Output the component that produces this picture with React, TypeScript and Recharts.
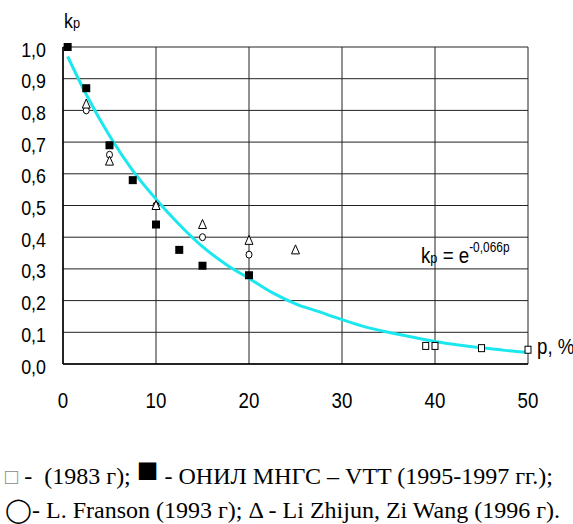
import {
  ComposedChart,
  Line,
  Scatter,
  XAxis,
  YAxis,
  CartesianGrid,
} from "recharts";

// ОНИЛ МНГС – VTT (1995-1997), filled squares
const pFilled = [0.5, 2.5, 5, 7.5, 10, 12.5, 15, 20];
const kFilled = [1.0, 0.87, 0.69, 0.58, 0.44, 0.36, 0.31, 0.28];
// 1983, open squares
const pOpenSq = [39, 40, 45, 50];
const kOpenSq = [0.057, 0.057, 0.05, 0.045];
// L. Franson (1993), circles
const pCircle = [2.5, 5, 10, 15, 20];
const kCircle = [0.8, 0.66, 0.5, 0.4, 0.345];
// Li Zhijun, Zi Wang (1996), triangles
const pTri = [2.5, 5, 10, 15, 20, 25];
const kTri = [0.82, 0.64, 0.5, 0.44, 0.39, 0.36];
// fitted curve kp = e^-0,066p
const pCurve = [0.5, 2.5, 5, 7.5, 10, 12.5, 15, 17.5, 20, 22.5, 25, 27.5, 30, 32.5, 35, 37.5, 40, 42.5, 45, 47.5, 50];
const kCurve = [0.97, 0.85, 0.72, 0.61, 0.52, 0.44, 0.37, 0.315, 0.27, 0.225, 0.19, 0.165, 0.14, 0.117, 0.1, 0.085, 0.071, 0.06, 0.051, 0.043, 0.037];

const xTicks = [0, 10, 20, 30, 40, 50];
const yTicks = [0, 0.1, 0.2, 0.3, 0.4, 0.5, 0.6, 0.7, 0.8, 0.9, 1.0];

const zip = (ps: number[], ks: number[]) => ps.map((p, i) => ({ p, k: ks[i] }));

const filled = zip(pFilled, kFilled);
const openSq = zip(pOpenSq, kOpenSq);
const circles = zip(pCircle, kCircle);
const tris = zip(pTri, kTri);
const curve = zip(pCurve, kCurve);

const sans = "'Liberation Sans', Arial, sans-serif";
const serif = "'Liberation Serif', 'Times New Roman', serif";
const squeeze = 0.85; // the original uses a condensed Arial

const FilledSquare = (props: any) => (
  <rect x={props.cx - 4} y={props.cy - 4} width={8} height={8} fill="#000" />
);
const OpenSquare = (props: any) => (
  <rect x={props.cx - 3} y={props.cy - 3.5} width={6} height={7} fill="#fff" stroke="#000" strokeWidth={1} />
);
const OpenCircle = (props: any) => (
  <ellipse cx={props.cx} cy={props.cy} rx={3} ry={3.5} fill="#fff" stroke="#000" strokeWidth={1} />
);
const OpenTri = (props: any) => (
  <polygon
    points={`${props.cx},${props.cy - 5} ${props.cx - 4},${props.cy + 4} ${props.cx + 4},${props.cy + 4}`}
    fill="#fff"
    stroke="#000"
    strokeWidth={1}
  />
);

const XTick = (props: any) => (
  <text
    transform={`translate(${props.x},${props.y + 36}) scale(${squeeze},1)`}
    textAnchor="middle"
    dominantBaseline="central"
    fill="#000"
    fontSize={22}
    fontFamily={sans}
  >
    {props.payload.value}
  </text>
);

const YTick = (props: any) => (
  <text
    transform={`translate(${props.x},${props.y + 2}) scale(${squeeze},1)`}
    textAnchor="end"
    dominantBaseline="central"
    fill="#000"
    fontSize={21}
    fontFamily={sans}
  >
    {props.payload.value.toFixed(1).replace(".", ",")}
  </text>
);

const condensed = { transform: `scaleX(${squeeze})`, transformOrigin: "left top", fontFamily: sans, whiteSpace: "nowrap" as const };

export default function App() {
  return (
    <div style={{ position: "absolute", left: 0, top: 0, width: 573, height: 524, background: "#fff" }}>
      <ComposedChart width={573} height={440} margin={{ top: 47, right: 45, bottom: 16, left: 0 }}>
        <CartesianGrid stroke="#222" strokeWidth={1} />
        <XAxis
          dataKey="p"
          type="number"
          domain={[0, 50]}
          ticks={xTicks}
          height={60}
          tickLine={false}
          tickSize={0}
          tickMargin={0}
          axisLine={{ stroke: "#000", strokeWidth: 1.5 }}
          tick={XTick}
        />
        <YAxis
          type="number"
          domain={[0, 1]}
          ticks={yTicks}
          width={63}
          tickLine={false}
          tickSize={0}
          tickMargin={17}
          axisLine={{ stroke: "#000", strokeWidth: 1.5 }}
          tick={YTick}
        />
        <Line data={curve} dataKey="k" type="monotone" stroke="#1be8ee" strokeWidth={3} dot={false} isAnimationActive={false} />
        <Scatter data={filled} dataKey="k" shape={FilledSquare} isAnimationActive={false} />
        <Scatter data={openSq} dataKey="k" shape={OpenSquare} isAnimationActive={false} />
        <Scatter data={circles} dataKey="k" shape={OpenCircle} isAnimationActive={false} />
        <Scatter data={tris} dataKey="k" shape={OpenTri} isAnimationActive={false} />
      </ComposedChart>

      <div style={{ ...condensed, position: "absolute", left: 64, top: 10, fontSize: 21, lineHeight: "21px" }}>
        k<span style={{ fontSize: 15 }}>p</span>
      </div>
      <div style={{ ...condensed, position: "absolute", left: 537, top: 336, fontSize: 22, lineHeight: "22px" }}>
        p, %
      </div>
      <div style={{ ...condensed, position: "absolute", left: 421, top: 245, fontSize: 22, lineHeight: "22px" }}>
        k<span style={{ fontSize: 15 }}>p</span> = e
        <span style={{ fontSize: 14, position: "relative", top: -11 }}>-0,066p</span>
      </div>

      <div style={{ position: "absolute", left: 5, top: 458, fontFamily: serif, fontSize: 24, lineHeight: "28px", whiteSpace: "nowrap" }}>
        <span style={{ color: "#888", fontSize: 22 }}>□</span> -&nbsp; (1983 г);{" "}
        <span style={{ fontSize: 36, lineHeight: "28px", position: "relative", top: -2 }}>■</span> - ОНИЛ МНГС – VTT (1995-1997 гг.);
      </div>
      <div style={{ position: "absolute", left: 5, top: 496, fontFamily: serif, fontSize: 24, lineHeight: "28px", whiteSpace: "nowrap" }}>
        ◯- L. Franson (1993 г); Δ - Li Zhijun, Zi Wang (1996 г).
      </div>
    </div>
  );
}
